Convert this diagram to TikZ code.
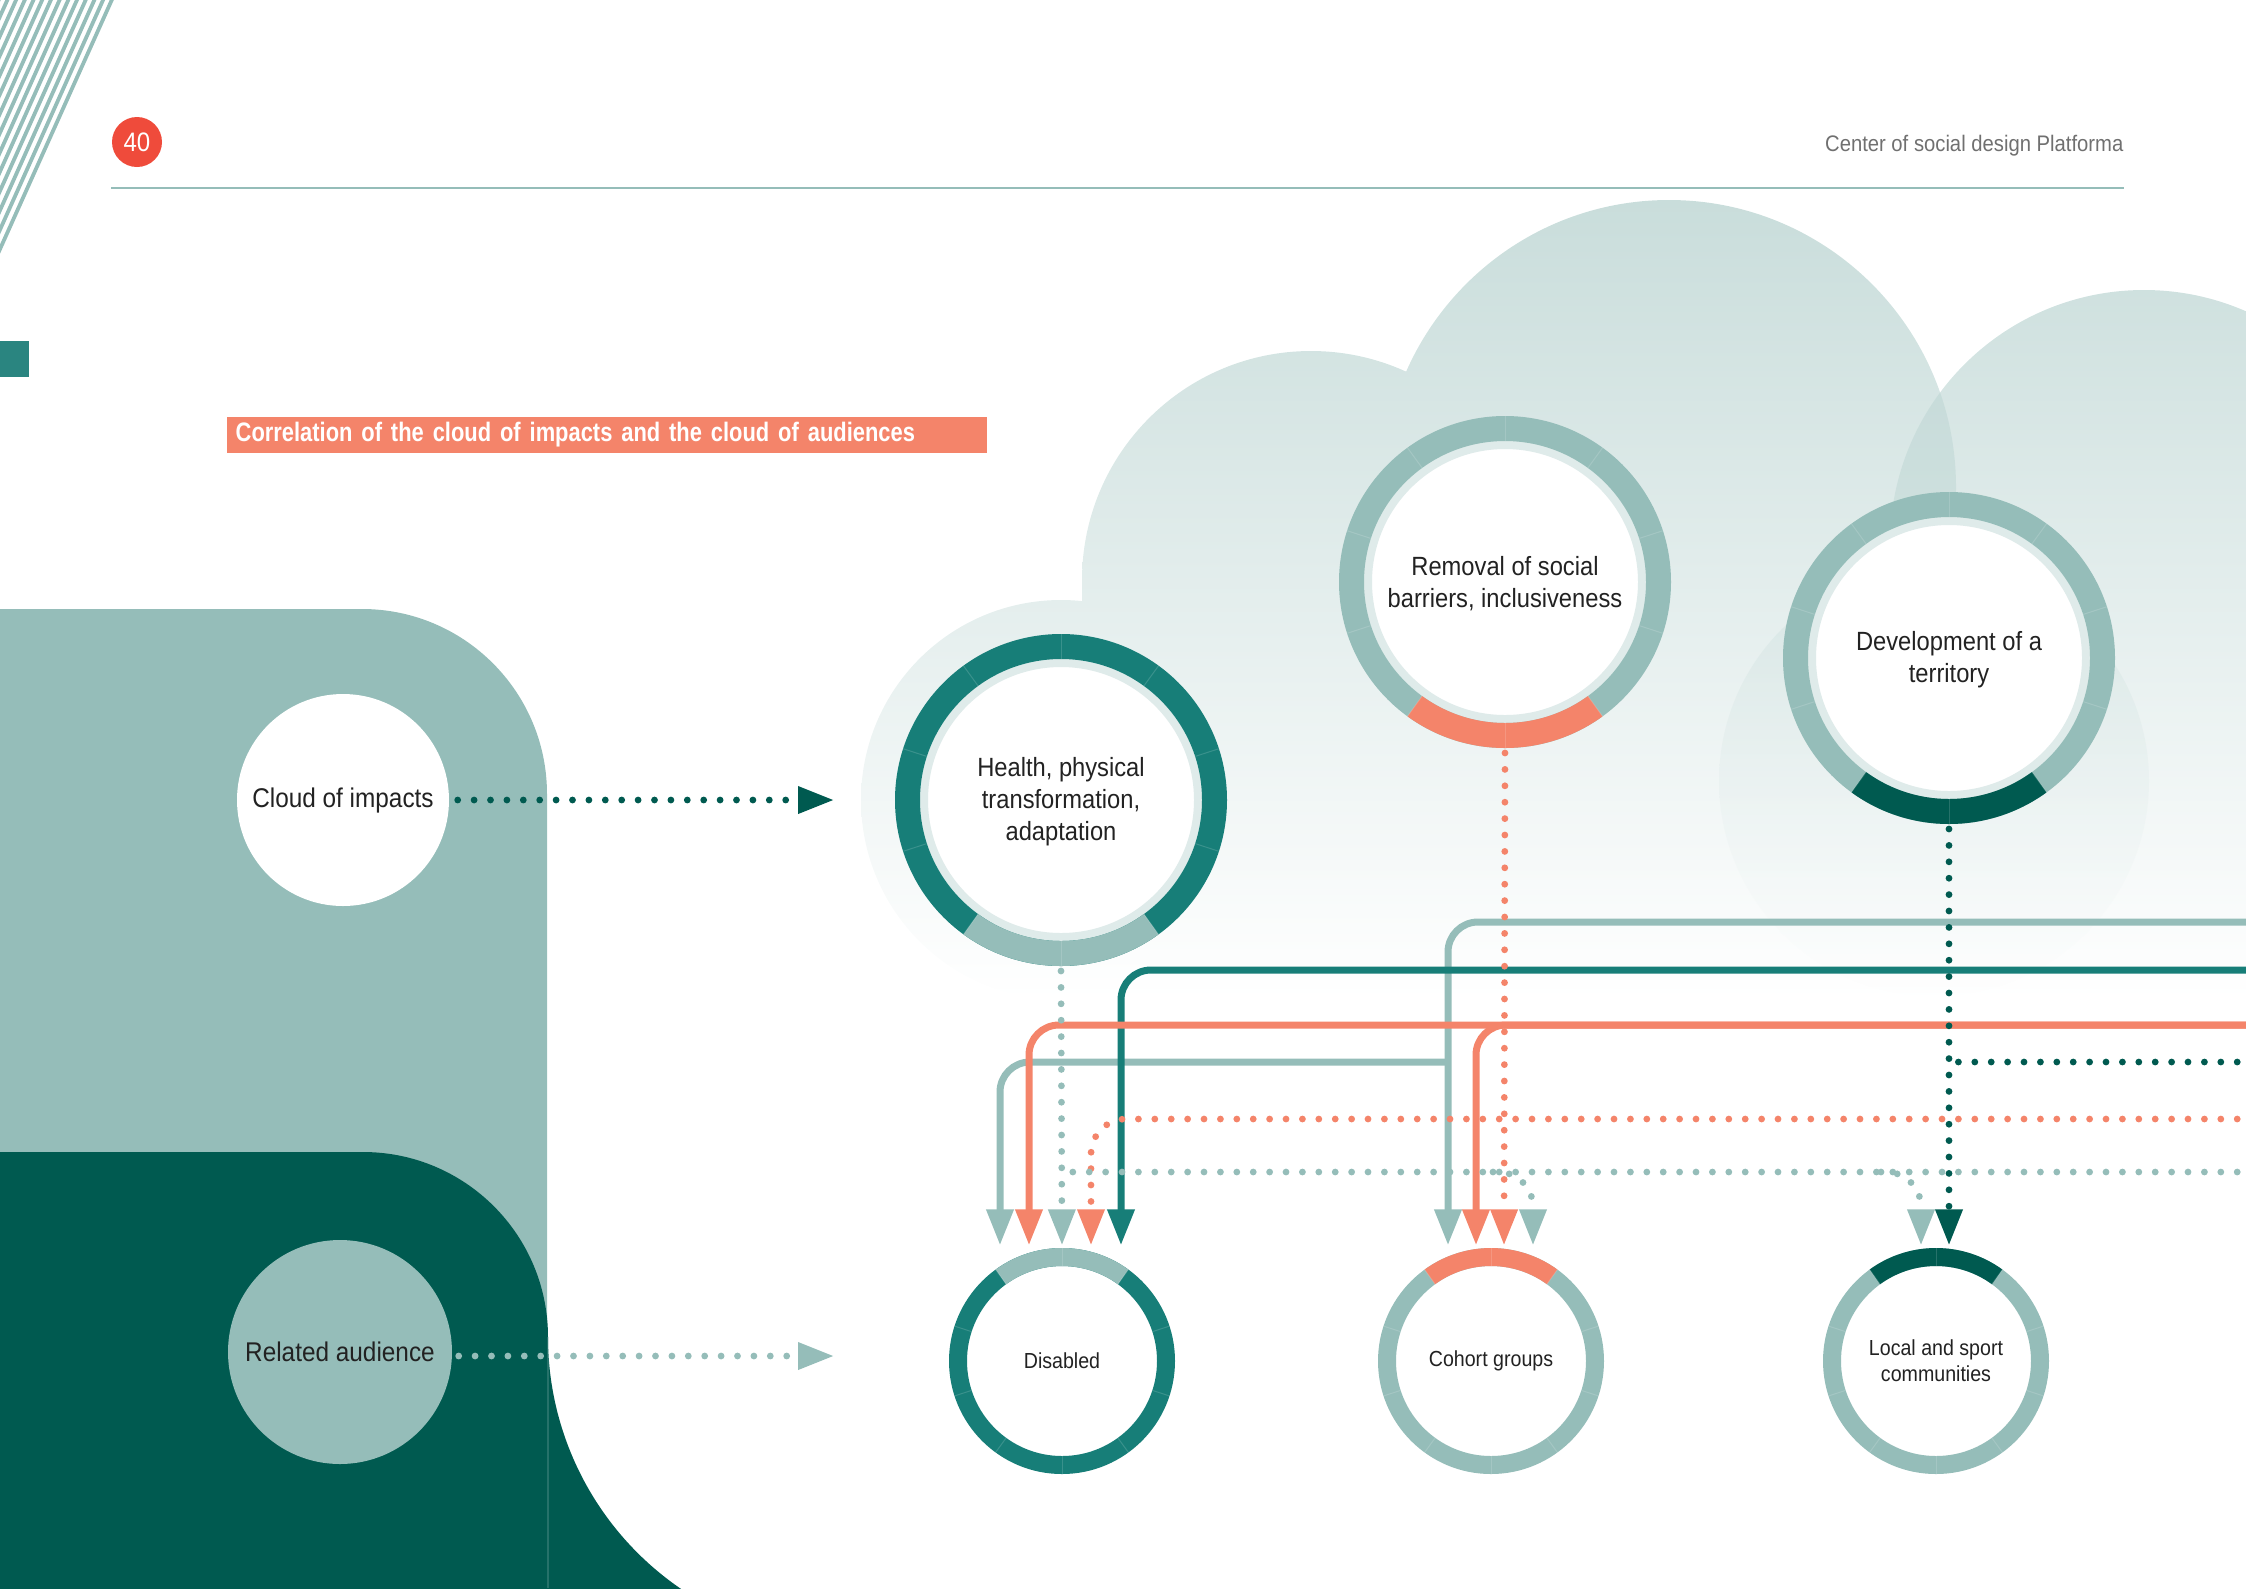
\documentclass[tikz,border=0pt]{standalone}
\usepackage{fontspec}
\setmainfont{Liberation Sans}[FakeStretch=0.9]
\newfontfamily\condfont{Liberation Sans}[FakeStretch=0.82]
\usetikzlibrary{arrows.meta,calc,positioning}

\definecolor{haze}{HTML}{95BDB9}
\definecolor{sea}{HTML}{177E78}
\definecolor{deep}{HTML}{005A50}
\definecolor{coral}{HTML}{F4846A}
\definecolor{signal}{HTML}{EF4B3B}
\definecolor{band}{HTML}{DFEBEA}
\definecolor{cloudtop}{HTML}{C9DDDB}
\definecolor{cloudmid}{HTML}{DBE8E6}
\definecolor{ink}{HTML}{222222}
\definecolor{greytext}{HTML}{707070}
\definecolor{square}{HTML}{2A8580}

\tikzstyle{impact} = [circle,fill=white,draw=band,line width=0.8mm,minimum size=27.4mm,inner sep=0,align=center,text=ink,font=\fontsize{7.5}{9.1}\selectfont]
\tikzstyle{audience} = [circle,fill=white,minimum size=19mm,inner sep=0,align=center,text=ink,font=\fontsize{6.2}{7.4}\selectfont]
\tikzstyle{source} = [circle,minimum size=21.2mm,inner sep=0,text=ink,font=\fontsize{7.7}{9}\selectfont]
\tikzstyle{flow} = [line width=0.7mm,rounded corners=3mm,-{Triangle[length=3.6mm,width=2.6mm]}]
\tikzstyle{dotline} = [line width=0.68mm,line cap=round,dash pattern=on 0pt off 1.64mm]
\tikzstyle{dotflow} = [dotline,rounded corners=3.5mm,-{Triangle[length=3.6mm,width=2.6mm]}]
\tikzstyle{titlebar} = [fill=coral,text=white,minimum height=3.6mm,text width=74.2mm,inner xsep=0.9mm,inner ysep=0,align=left,font=\condfont\bfseries\fontsize{7.6}{9}\selectfont]
\def \cloudshade {\shade[top color=cloudtop,middle color=cloudmid,bottom color=white] (800,200) rectangle (2270,1000);}

% ten segments round a node: node, inner r, outer r, colour, accent colour, accent start
\newcommand{\segring}[6]{%
  \draw[#4,line width={(#3-#2)*0.1mm}] (#1.center) circle[radius={(#2+#3)/2}];
  \draw[#5,line width={(#3-#2)*0.1mm}] ($(#1.center)+(#6:{(#2+#3)/2})$) arc[start angle=#6,end angle=#6+72,radius={(#2+#3)/2}];
  \foreach \a in {18,54,...,342}
    \draw[white,opacity=0.15,line width=0.1mm] ($(#1.center)+(\a:#2)$) -- ($(#1.center)+(\a:#3)$);
}

\begin{document}
\begin{tikzpicture}[x=0.1mm,y=-0.1mm]
\useasboundingbox (0,0) rectangle (2246,1588);

% cloud
\foreach \cx/\cy/\cr in {1311/580/229,1669/487/287,2144/544/254,1061/800/200}
  {\begin{scope}\clip (\cx,\cy) circle[radius=\cr]; \cloudshade \end{scope}}
\begin{scope}\clip (1082,580) rectangle (2270,1000); \cloudshade \end{scope}
\begin{scope}\clip (1669,487) circle[radius=287];
  \fill[haze,opacity=0.22] (2144,544) circle[radius=254];
\end{scope}
\shade[top color=haze,bottom color=white,opacity=0.14] (1934,781) circle[radius=215];

% left panels
\fill[haze] (0,1600) -- (0,609) -- (362,609) arc[start angle=-90,end angle=0,radius=185] -- (547,1600) -- cycle;
\fill[deep] (0,1600) -- (0,1152) -- (363,1152) arc[start angle=-90,end angle=0,radius=185]
  arc[start angle=180,end angle=122,radius=305] -- (0,1600) -- cycle;
\draw[haze,opacity=0.25,line width=0.12mm] (548,1337) -- (548,1588);

% page furniture
\begin{scope}
  \clip (0,0) rectangle (200,300);
  \foreach \k in {0,...,14}
    \draw[haze,line width=0.38mm] (114-8.7*\k,-5) -- ++(-118,263);
\end{scope}
\fill[square] (0,341) rectangle (29,377);
\node[circle,fill=signal,minimum size=5mm,inner sep=0,text=white,font=\fontsize{7.6}{9}\selectfont] (page) at (137,142) {40};
\node[anchor=east,inner sep=0,text=greytext,font=\fontsize{6.4}{8}\selectfont] (running) at (2124,146) {Center of social design Platforma};
\draw[haze,line width=0.2mm] (page.west |- 0,188) -- (running.east |- 0,188);
\node[titlebar,anchor=west] (title) at (226,435) {Correlation of the cloud of impacts and the cloud of audiences};

% sources
\node[source,fill=white] (impacts) at (343,800) {Cloud of impacts};
\node[source,fill=haze,minimum size=22.4mm] (related) at (340,1352) {Related audience};
\coordinate (impin) at (834,800);
\coordinate (audin) at (834,1356);
\draw[dotflow,deep] ($(impacts.east)+(8,0)$) -- (impin);
\draw[dotflow,haze] ($(related.east |- audin)+(6,0)$) -- (audin);

% impacts
\node[impact] (health) at (1061,800) {\strut Health, physical\\transformation,\\adaptation};
\node[impact] (removal) at (1505,582) {\strut Removal of social\\barriers, inclusiveness};
\node[impact] (territory) at (1949,658) {\strut Development of a\\territory};
\segring{health}{141}{166}{sea}{haze}{54}
\segring{removal}{141}{166}{haze}{coral}{54}
\segring{territory}{141}{166}{haze}{deep}{54}

% audiences
\node[audience] (disabled) at (1062,1361) {Disabled};
\node[audience] (cohort) at (1491,1361) {Cohort groups};
\node[audience] (local) at (1936,1361) {Local and sport\\communities};
\segring{disabled}{95}{113}{sea}{haze}{234}
\segring{cohort}{95}{113}{haze}{coral}{234}
\segring{local}{95}{113}{haze}{deep}{234}

\path ($(disabled.north)+(0,-20)$) coordinate (d3)
  ++(-62,0) coordinate (d1) ++(29,0) coordinate (d2) ++(62,0) coordinate (d4) ++(30,0) coordinate (d5);
\path ($(cohort.north)+(-43,-20)$) coordinate (c1)
  ++(28,0) coordinate (c2) ++(28,0) coordinate (c3) ++(29,0) coordinate (c4);
\path ($(local.north)+(-15,-20)$) coordinate (l1) ++(28,0) coordinate (l2);
\coordinate (inA) at (2270,922);
\coordinate (inB) at (2270,970);
\coordinate (inC) at (2270,1025);
\coordinate (inD) at (2270,1062);
\coordinate (inE) at (2270,1119);
\coordinate (inF) at (2270,1172);

% links
\draw[flow,haze] (inA) -| (c1);
\draw[flow,haze] (c1 |- inD) -| (d1);
\draw[flow,sea] (inB) -| (d5);
\draw[flow,coral] (inC) -| (d2);
\draw[flow,coral] (inC) -| (c2);
\draw[dotline,deep] (inD) -- (territory.south |- inD);
\draw[dotflow,deep] ($(territory.south)+(0,30)$) -- (l2);
\draw[dotflow,coral] ($(removal.south)+(0,30)$) -- (c3);
\draw[dotflow,coral] (inE) -| (d4);
\draw[dotline,haze] (inF) -- (d3 |- inF);
\draw[dotflow,haze] ($(health.south)+(0,30)$) -- (d3);
\draw[dotflow,haze] ($(c4 |- inF)+(-40,0)$) -| (c4);
\draw[dotflow,haze] ($(l1 |- inF)+(-40,0)$) -| (l1);
\end{tikzpicture}
\end{document}
